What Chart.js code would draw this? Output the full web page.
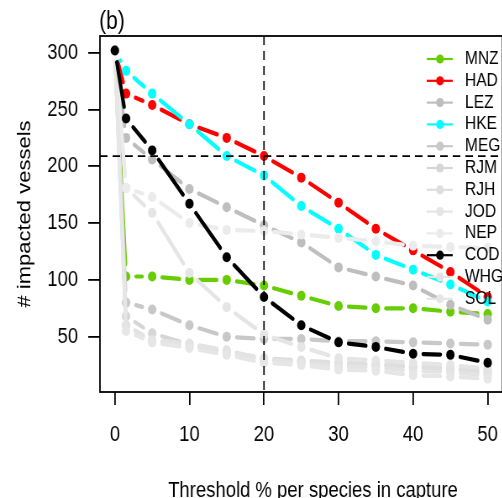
<!DOCTYPE html>
<html>
<head>
<meta charset="utf-8">
<script src="https://cdn.jsdelivr.net/npm/chart.js@4.4.0/dist/chart.umd.min.js"></script>
<style>
    html, body { margin: 0; padding: 0; background: #fff; overflow: hidden; }
    /* the reference is squeezed sideways, so draw wide and squash */
    #wrap { width: 610px; height: 498px; transform: scaleX(0.84); transform-origin: 0 0; }
</style>
</head>
<body>
<div id="wrap"><canvas id="chartThreshold" width="610" height="498"></canvas></div>
<script>
// ===== DATA =====
const thresholds = [0, 1.5, 5, 10, 15, 20, 25, 30, 35, 40, 45, 50];
const species = ['MNZ', 'HAD', 'LEZ', 'HKE', 'MEG', 'RJM', 'RJH', 'JOD', 'NEP', 'COD', 'WHG', 'SOL'];
const speciesColors = ['#66CD00', '#FF0000', '#BEBEBE', '#00FFFF', '#C8C8C8', '#D6D6D6',
                       '#DEDEDE', '#E5E5E5', '#EBEBEB', '#000000', '#E3E3E3', '#E6E6E6'];

const MNZ = [302, 103, 103, 100, 100, 95, 86, 77, 75, 75, 72, 70];
const HAD = [302, 264, 254, 237, 225, 209, 190, 168, 145, 126, 107, 85];
const LEZ = [302, 225, 206, 180, 164, 148, 133, 111, 103, 95, 78, 65];
const HKE = [302, 284, 264, 237, 209, 192, 165, 145, 122, 109, 96, 81];
const MEG = [302, 80, 74, 60, 50, 48, 48, 46, 46, 45, 44, 43];
const RJM = [302, 68, 53, 43, 36, 30, 28, 26, 25, 23, 21, 18];
const RJH = [302, 60, 46, 41, 37, 31, 29, 27, 26, 24, 22, 20];
const JOD = [302, 181, 159, 106, 76, 52, 41, 31, 29, 27, 25, 22];
const NEP = [302, 181, 173, 150, 144, 143, 140, 137, 134, 130, 129, 128];
const COD = [302, 242, 214, 167, 120, 85, 60, 45, 41, 35, 34, 27];
const WHG = [302, 60, 47, 44, 38, 30, 27, 24, 23, 20, 19, 16];
const SOL = [302, 55, 45, 40, 34, 27, 25, 21, 20, 16, 15, 13];
const seriesValues = [MNZ, HAD, LEZ, HKE, MEG, RJM, RJH, JOD, NEP, COD, WHG, SOL];

const xTickValues = [0, 10, 20, 30, 40, 50];
const yTickValues = [50, 100, 150, 200, 250, 300];
const refX = 20;
const refY = 209;

const FONT = "'Liberation Sans', Arial, sans-serif";
const GAP = 12;  // space left around each point, like R type="b"

// R-like decorations: gapped lines, reference lines, box, legend
const rStyle = {
    id: 'rStyle',
    beforeDatasetDraw(chart, args) {
        const pts = args.meta.data;
        const c = chart.ctx;
        c.save();
        c.strokeStyle = speciesColors[args.index];
        c.lineWidth = 4.2;
        c.lineCap = 'round';
        for (let k = 1; k < pts.length; k++) {
            const a = pts[k - 1], b = pts[k];
            const dx = b.x - a.x, dy = b.y - a.y;
            const len = Math.hypot(dx, dy);
            if (len <= 2 * GAP) continue;
            const ux = dx / len, uy = dy / len;
            c.beginPath();
            c.moveTo(a.x + ux * GAP, a.y + uy * GAP);
            c.lineTo(b.x - ux * GAP, b.y - uy * GAP);
            c.stroke();
        }
        c.restore();
    },
    afterDatasetsDraw(chart) {
        const c = chart.ctx;
        const area = chart.chartArea;
        const px = chart.scales.x.getPixelForValue(refX);
        const py = chart.scales.y.getPixelForValue(refY);
        c.save();
        c.strokeStyle = '#000';
        c.lineWidth = 1.7;
        c.setLineDash([9, 6]);
        c.beginPath();
        c.moveTo(px, area.top);
        c.lineTo(px, area.bottom);
        c.moveTo(area.left, py);
        c.lineTo(area.right, py);
        c.stroke();
        c.setLineDash([]);
        c.lineWidth = 1.8;
        c.strokeRect(area.left, area.top, area.right - area.left, area.bottom - area.top);
        c.restore();
    },
    afterDraw(chart) {
        const c = chart.ctx;
        c.save();
        // legend
        species.forEach(function(name, i) {
            const yy = 59 + i * 21.8;
            c.strokeStyle = speciesColors[i];
            c.lineWidth = 2.2;
            c.beginPath();
            c.moveTo(508, yy);
            c.lineTo(539, yy);
            c.stroke();
            c.fillStyle = speciesColors[i];
            c.beginPath();
            c.arc(523.8, yy, 4.6, 0, 2 * Math.PI);
            c.fill();
            c.fillStyle = '#000';
            c.font = '18.5px ' + FONT;
            c.textAlign = 'left';
            c.textBaseline = 'middle';
            c.fillText(name, 553.6, yy);
        });
        // panel letter
        c.fillStyle = '#000';
        c.font = '25px ' + FONT;
        c.textBaseline = 'alphabetic';
        c.textAlign = 'left';
        c.fillText('(b)', 118, 29);
        // x axis title
        c.font = '22px ' + FONT;
        c.textAlign = 'center';
        c.fillText('Threshold % per species in capture', 372.6, 497);
        c.restore();
    }
};

const ctx = document.getElementById('chartThreshold');
new Chart(ctx, {
    type: 'line',
    data: {
        datasets: species.map(function(name, i) {
            return {
                label: name,
                data: thresholds.map((t, j) => ({ x: t, y: seriesValues[i][j] })),
                showLine: false,
                borderColor: speciesColors[i],
                pointBackgroundColor: speciesColors[i],
                pointBorderWidth: 0,
                pointRadius: 5,
                pointHoverRadius: 5,
                order: name === 'COD' ? 0 : species.length - i
            };
        })
    },
    options: {
        responsive: false,
        animation: false,
        devicePixelRatio: 1,
        events: [],
        layout: { padding: { top: 36, right: 6, left: 0, bottom: 0 } },
        plugins: {
            legend: { display: false },
            tooltip: { enabled: false }
        },
        scales: {
            x: {
                type: 'linear',
                min: -2,
                max: 52,
                afterBuildTicks: s => { s.ticks = xTickValues.map(v => ({ value: v })); },
                afterFit: s => { s.height = 106; },
                grid: { drawOnChartArea: false, drawTicks: true, tickLength: 13, color: '#000', lineWidth: 1.8 },
                border: { display: false },
                ticks: { color: '#000', font: { family: FONT, size: 22 }, padding: 17, maxRotation: 0 }
            },
            y: {
                type: 'linear',
                min: 1.3,
                max: 314.7,
                afterBuildTicks: s => { s.ticks = yTickValues.map(v => ({ value: v })); },
                afterFit: s => { s.width = 119; },
                grid: { drawOnChartArea: false, drawTicks: true, tickLength: 14, color: '#000', lineWidth: 1.8 },
                border: { display: false },
                ticks: { color: '#000', font: { family: FONT, size: 22 }, padding: 12 },
                title: {
                    display: true,
                    text: '# impacted vessels',
                    color: '#000',
                    font: { family: FONT, size: 22 },
                    padding: { top: 17, bottom: 0 }
                }
            }
        }
    },
    plugins: [rStyle]
});
</script>
</body>
</html>
